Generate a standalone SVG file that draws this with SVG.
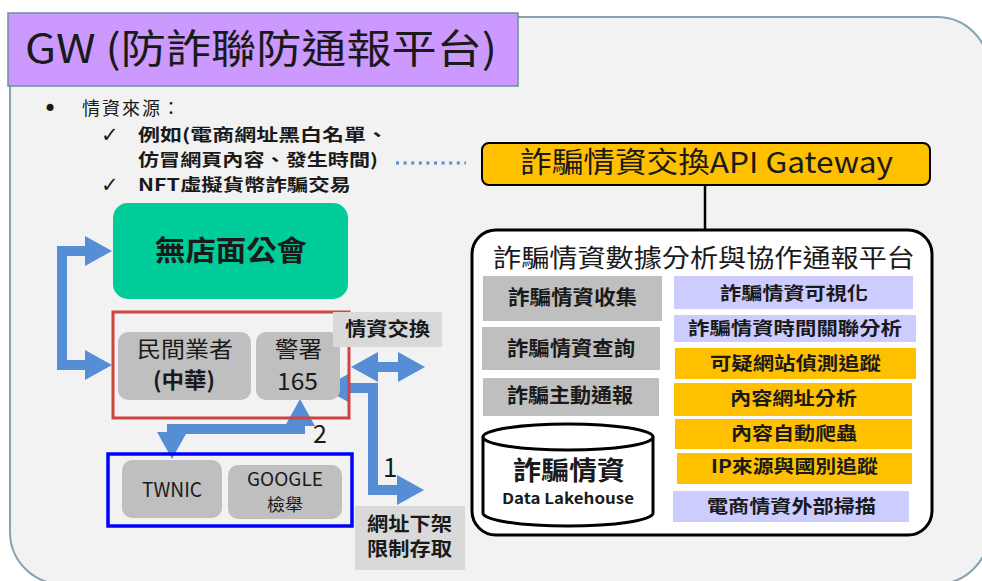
<svg xmlns="http://www.w3.org/2000/svg" width="982" height="581" viewBox="0 0 982 581">
<style>
text{font-family:"Noto Sans CJK TC","Noto Sans",sans-serif;fill:#1a1a1a}
.b{font-weight:bold}
.chk{font-family:"DejaVu Sans",sans-serif;font-size:21px}
.gbox{fill:#bfbfbf}
.lav{fill:#ccccff}
.org{fill:#ffc000}
.lbl{fill:#d9d9d9}
.arr{fill:none;stroke:#558ed5;stroke-width:10;stroke-linejoin:miter;marker-start:url(#ah);marker-end:url(#ah)}
</style>
<defs>
<marker id="ah" markerUnits="userSpaceOnUse" markerWidth="28" markerHeight="30" refX="2" refY="15" orient="auto-start-reverse" overflow="visible">
<path d="M0,0 L27,15 L0,30 z" fill="#558ed5"/>
</marker>
</defs>
<rect width="982" height="581" fill="#ffffff"/>
<rect id="bg" x="10" y="17" width="979" height="567" rx="52" fill="#f2f2f2" stroke="#86a3ae" stroke-width="2"/>

<g id="title">
<rect x="8" y="13" width="510" height="73" fill="#cc99ff" stroke="#6f8f9c" stroke-width="1.5"/>
<text x="25" y="63" font-size="40" textLength="472" lengthAdjust="spacingAndGlyphs">GW (防詐聯防通報平台)</text>
</g>

<g id="sources" font-size="17">
<text x="43" y="117" font-size="24" style="font-family:'DejaVu Sans',sans-serif">•</text>
<text x="82" y="115" font-size="18" letter-spacing="2" fill="#262626">情資來源：</text>
<text class="chk" x="101" y="142">✓</text>
<text class="b" x="138" y="141" textLength="250" lengthAdjust="spacingAndGlyphs">例如(電商網址黑白名單、</text>
<text class="b" x="138" y="166" textLength="240" lengthAdjust="spacingAndGlyphs">仿冒網頁內容、發生時間)</text>
<text class="chk" x="101" y="192">✓</text>
<text class="b" x="138" y="191" textLength="213" lengthAdjust="spacingAndGlyphs">NFT虛擬貨幣詐騙交易</text>
</g>

<g id="connectors">
<line x1="396" y1="163" x2="466" y2="163" stroke="#558ed5" stroke-width="3" stroke-dasharray="3 4.6"/>
<line x1="705" y1="185" x2="705" y2="230" stroke="#000" stroke-width="2.5"/>
<path class="arr" d="M87,251 H62 V365 H87"/>
<path class="arr" d="M376,367 H400"/>
<path class="arr" d="M348,388 H373 V490 H399"/>
<path class="arr" d="M172,434 V429 H300 V424" stroke-width="9"/>
<text x="383" y="477" font-size="26">1</text>
<text x="313" y="443" font-size="25">2</text>
</g>

<g id="gateway">
<rect x="482" y="143" width="448" height="42" rx="7" class="org" stroke="#000" stroke-width="2"/>
<text x="520" y="173" font-size="29" textLength="373" lengthAdjust="spacingAndGlyphs" fill="#000">詐騙情資交換API Gateway</text>
</g>

<g id="platform">
<rect x="472" y="230" width="460" height="305" rx="24" fill="#fff" stroke="#000" stroke-width="3"/>
<text x="493" y="267" font-size="25" textLength="422" lengthAdjust="spacingAndGlyphs" fill="#000">詐騙情資數據分析與協作通報平台</text>
</g>

<g id="collect"><rect x="483" y="276" width="179" height="45" class="gbox"/>
<text class="b" x="508" y="305" font-size="20" textLength="129" lengthAdjust="spacingAndGlyphs">詐騙情資收集</text></g>
<g id="query"><rect x="482" y="327" width="178" height="43" class="gbox"/>
<text class="b" x="507" y="356" font-size="20" textLength="128" lengthAdjust="spacingAndGlyphs">詐騙情資查詢</text></g>
<g id="report"><rect x="483" y="378" width="176" height="38" class="gbox"/>
<text class="b" x="507" y="403" font-size="20" textLength="126" lengthAdjust="spacingAndGlyphs">詐騙主動通報</text></g>

<g id="lakehouse">
<path d="M483,437 V513 A85,13 0 0 0 653,513 V437" fill="#fff" stroke="#000" stroke-width="3"/>
<ellipse cx="568" cy="437" rx="85" ry="13" fill="#fff" stroke="#000" stroke-width="3"/>
<text class="b" x="513" y="480" font-size="26" textLength="112" lengthAdjust="spacingAndGlyphs" fill="#000">詐騙情資</text>
<text class="b" x="502" y="504" font-size="15" textLength="132" lengthAdjust="spacingAndGlyphs" fill="#000">Data Lakehouse</text>
</g>

<g id="visual"><rect x="674" y="276" width="239" height="33" class="lav"/>
<text class="b" x="720" y="300" font-size="18" textLength="148" lengthAdjust="spacingAndGlyphs">詐騙情資可視化</text></g>
<g id="timecorr"><rect x="674" y="315" width="242" height="27" class="lav"/>
<text class="b" x="688" y="335" font-size="18" textLength="214" lengthAdjust="spacingAndGlyphs">詐騙情資時間關聯分析</text></g>
<g id="detect"><rect x="675" y="348" width="241" height="31" class="org"/>
<text class="b" x="710" y="370" font-size="18" textLength="171" lengthAdjust="spacingAndGlyphs">可疑網站偵測追蹤</text></g>
<g id="urlanalysis"><rect x="674" y="383" width="238" height="33" class="org"/>
<text class="b" x="730" y="405" font-size="18" textLength="127" lengthAdjust="spacingAndGlyphs">內容網址分析</text></g>
<g id="crawler"><rect x="675" y="419" width="237" height="30" class="org"/>
<text class="b" x="731" y="440" font-size="18" textLength="126" lengthAdjust="spacingAndGlyphs">內容自動爬蟲</text></g>
<g id="iptrace"><rect x="677" y="453" width="235" height="31" class="org"/>
<text class="b" x="711" y="473" font-size="18" textLength="167" lengthAdjust="spacingAndGlyphs">IP來源與國別追蹤</text></g>
<g id="extscan"><rect x="673" y="491" width="236" height="31" class="lav"/>
<text class="b" x="707" y="513" font-size="18" textLength="169" lengthAdjust="spacingAndGlyphs" fill="#333">電商情資外部掃描</text></g>

<g id="association">
<rect x="113" y="203" width="235" height="96" rx="15" fill="#00cc99"/>
<text class="b" x="155" y="261" font-size="28" textLength="152" lengthAdjust="spacingAndGlyphs" fill="#000">無店面公會</text>
</g>

<g id="groupRed">
<rect x="113" y="312" width="236" height="106" fill="none" stroke="#d04343" stroke-width="3"/>
</g>
<g id="private">
<rect x="118" y="332" width="133" height="68" rx="10" class="gbox"/>
<text x="137" y="357" font-size="22" textLength="96" lengthAdjust="spacingAndGlyphs" fill="#404040">民間業者</text>
<text class="b" x="153" y="388" font-size="22" textLength="62" lengthAdjust="spacingAndGlyphs" fill="#262626">(中華)</text>
</g>
<g id="police">
<rect x="256" y="332" width="84" height="68" rx="10" class="gbox"/>
<text x="275" y="357" font-size="22" textLength="47" lengthAdjust="spacingAndGlyphs" fill="#404040">警署</text>
<text x="277" y="390" font-size="24" textLength="41" lengthAdjust="spacingAndGlyphs" fill="#404040">165</text>
</g>
<g id="exchange">
<rect x="333" y="312" width="109" height="35" class="lbl"/>
<text class="b" x="345" y="336" font-size="19" textLength="85" lengthAdjust="spacingAndGlyphs" fill="#262626">情資交換</text>
</g>

<g id="groupBlue">
<rect x="108" y="454" width="244" height="72" fill="none" stroke="#0000ff" stroke-width="3.5"/>
</g>
<g id="twnic">
<rect x="122" y="460" width="100" height="58" rx="10" class="gbox"/>
<text x="142" y="497" font-size="20" textLength="60" lengthAdjust="spacingAndGlyphs" fill="#262626">TWNIC</text>
</g>
<g id="google">
<rect x="228" y="465" width="114" height="54" rx="10" class="gbox"/>
<text x="247" y="486" font-size="19" textLength="76" lengthAdjust="spacingAndGlyphs" fill="#262626">GOOGLE</text>
<text x="267" y="511" font-size="17" textLength="36" lengthAdjust="spacingAndGlyphs" fill="#595959">檢舉</text>
</g>
<g id="takedown">
<rect x="355" y="506" width="110" height="64" class="lbl"/>
<text class="b" x="367" y="531" font-size="19" textLength="85" lengthAdjust="spacingAndGlyphs" fill="#262626">網址下架</text>
<text class="b" x="367" y="556" font-size="19" textLength="85" lengthAdjust="spacingAndGlyphs" fill="#262626">限制存取</text>
</g>
</svg>
